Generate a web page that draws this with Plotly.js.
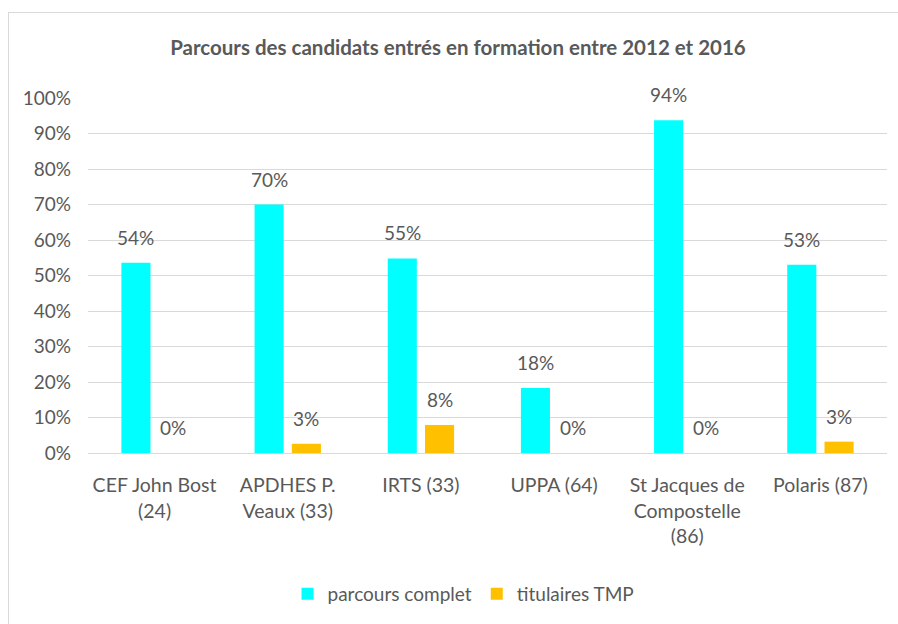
<!DOCTYPE html>
<html><head><meta charset="utf-8">
<script src="https://cdn.plot.ly/plotly-3.0.1.min.js"></script>
<style>body{margin:0;background:#fff}#wrap{position:relative;width:898px;height:624px}
#frame{position:absolute;left:8px;top:12px;width:900px;height:620px;border:1.5px solid #d9d9d9;pointer-events:none}</style>
</head><body><div id="wrap"><div id="chart" style="width:898px;height:624px"></div><div id="frame"></div></div>
<script>
const categories = ["CEF John Bost<br>(24)", "APDHES P.<br>Veaux (33)", "IRTS (33)", "UPPA (64)", "St Jacques de<br>Compostelle<br>(86)", "Polaris (87)"];
const parcoursComplet = [0.536, 0.70, 0.548, 0.183, 0.937, 0.53];
const titulairesTMP = [0, 0.026, 0.079, 0, 0, 0.032];
const seriesNames = ["parcours complet", "titulaires TMP"];
const titleText = "Parcours des candidats entrés en formation entre 2012 et 2016";

const FONT = "Lato, 'Open Sans', sans-serif";
const GRAY = "#595959";
const traces = [
  {type:"bar", name:seriesNames[0], x:categories, y:parcoursComplet, marker:{color:"#00FFFF"}, hoverinfo:"none"},
  {type:"bar", name:seriesNames[1], x:categories, y:titulairesTMP, marker:{color:"#FFC000"}, hoverinfo:"none"}
];
const fmt = v => Math.round(v*100) + "%";
const annotations = [];
[parcoursComplet, titulairesTMP].forEach((arr, s) => {
  arr.forEach((v, i) => {
    annotations.push({x: i + (s === 0 ? -0.14 : 0.14), y: v, xref:"x", yref:"y", text: fmt(v),
      showarrow:false, yanchor:"bottom", yshift:12, font:{family:FONT, size:19, color:GRAY}});
  });
});
const layout = {
  width:898, height:624,
  margin:{l:88, r:11, t:98, b:171},
  paper_bgcolor:"#fff", plot_bgcolor:"#fff",
  title:{text:titleText, x:0.51, xanchor:"center", y:0.923, yanchor:"middle",
    font:{family:FONT, size:20.5, color:GRAY, weight:"bold"}},
  barmode:"group", bargap:0.44, bargroupgap:0.22,
  xaxis:{type:"category", showgrid:false, zeroline:false, showline:true, linecolor:"#d9d9d9", linewidth:1,
    tickfont:{family:FONT, size:19.5, color:GRAY}, ticks:"", ticklabelstandoff:15, fixedrange:true},
  yaxis:{range:[0,1], dtick:0.1, tickformat:".0%", gridcolor:"#d9d9d9", gridwidth:1, zeroline:false,
    showline:false, tickfont:{family:FONT, size:19, color:GRAY}, ticklabelstandoff:16, fixedrange:true},
  showlegend:true,
  legend:{orientation:"h", x:0.47, xanchor:"center", y:-0.397, yanchor:"middle",
    font:{family:FONT, size:19, color:GRAY}, itemwidth:30, traceorder:"normal"},
  annotations: annotations
};
Plotly.newPlot("chart", traces, layout, {displayModeBar:false, staticPlot:true});
</script></body></html>
